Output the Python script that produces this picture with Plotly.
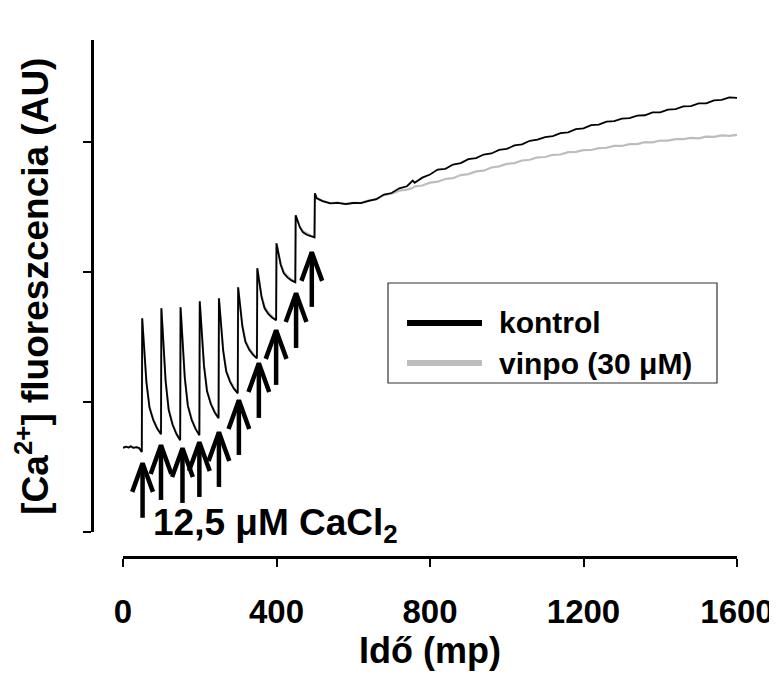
import plotly.graph_objects as go

# ---------------- data ----------------
time_s = [0, 8, 15, 20, 27, 35, 42, 49,
          50, 53, 61, 69, 79, 89, 99,
          100, 103, 111, 119, 129, 139, 149,
          150, 153, 161, 169, 179, 189, 199,
          200, 203, 211, 219, 229, 239, 249,
          250, 253, 261, 269, 279, 289, 299,
          300, 303, 311, 319, 329, 339, 349,
          350, 353, 361, 369, 379, 389, 399,
          400, 403, 411, 419, 429, 439, 449,
          450, 453, 461, 469, 479, 489, 499,
          500, 505, 520, 540, 560, 580, 600, 620, 640, 660,
          680, 700, 720, 740, 755, 760, 780, 800, 820, 840, 860, 880, 900,
          920, 940, 960, 980, 1000, 1020, 1040, 1060, 1080, 1100, 1120, 1140,
          1160, 1180, 1200, 1220, 1240, 1260, 1280, 1300, 1320, 1340, 1360,
          1380, 1400, 1420, 1440, 1460, 1480, 1500, 1520, 1540, 1560, 1580, 1600]

kontrol = [0.650, 0.658, 0.652, 0.662, 0.650, 0.655, 0.648, 0.618,
           1.646, 1.485, 1.155, 0.959, 0.862, 0.798, 0.754,
           1.723, 1.540, 1.165, 0.942, 0.829, 0.758, 0.708,
           1.731, 1.554, 1.189, 0.972, 0.865, 0.795, 0.746,
           1.777, 1.615, 1.282, 1.084, 0.985, 0.922, 0.877,
           1.800, 1.668, 1.398, 1.237, 1.157, 1.105, 1.069,
           1.885, 1.786, 1.585, 1.464, 1.404, 1.365, 1.338,
           2.031, 1.958, 1.811, 1.723, 1.678, 1.651, 1.631,
           2.223, 2.169, 2.058, 1.992, 1.959, 1.938, 1.923,
           2.438, 2.408, 2.345, 2.308, 2.289, 2.278, 2.269,
           2.608, 2.569, 2.548, 2.530, 2.534, 2.524, 2.533, 2.532, 2.550, 2.562,
           2.598, 2.610, 2.646, 2.662, 2.705, 2.688, 2.728, 2.752, 2.790, 2.796, 2.829, 2.840, 2.870,
           2.879, 2.906, 2.914, 2.942, 2.949, 2.976, 2.984, 3.012, 3.020, 3.040, 3.047, 3.071,
           3.077, 3.101, 3.107, 3.132, 3.136, 3.159, 3.163, 3.182, 3.186, 3.205, 3.208,
           3.230, 3.231, 3.252, 3.256, 3.276, 3.278, 3.299, 3.300, 3.322, 3.326, 3.345, 3.342]

vinpo = [0.650, 0.658, 0.652, 0.662, 0.650, 0.655, 0.648, 0.618,
         1.646, 1.487, 1.160, 0.965, 0.868, 0.803, 0.756,
         1.723, 1.542, 1.170, 0.948, 0.835, 0.762, 0.710,
         1.731, 1.556, 1.194, 0.978, 0.871, 0.800, 0.748,
         1.777, 1.617, 1.288, 1.090, 0.992, 0.927, 0.879,
         1.800, 1.670, 1.405, 1.245, 1.166, 1.112, 1.072,
         1.885, 1.789, 1.592, 1.474, 1.416, 1.374, 1.340,
         2.031, 1.961, 1.820, 1.735, 1.690, 1.660, 1.633,
         2.223, 2.172, 2.066, 2.003, 1.970, 1.946, 1.925,
         2.438, 2.410, 2.352, 2.316, 2.296, 2.283, 2.270,
         2.608, 2.571, 2.551, 2.533, 2.536, 2.527, 2.535, 2.534, 2.551, 2.561,
         2.594, 2.604, 2.628, 2.636, 2.648, 2.660, 2.668, 2.690, 2.697, 2.718, 2.724, 2.748, 2.755,
         2.776, 2.782, 2.806, 2.815, 2.834, 2.840, 2.860, 2.866, 2.884, 2.887, 2.904, 2.906,
         2.924, 2.926, 2.940, 2.941, 2.955, 2.958, 2.972, 2.972, 2.986, 2.986, 3.001,
         3.000, 3.014, 3.013, 3.025, 3.024, 3.034, 3.031, 3.043, 3.042, 3.053, 3.050, 3.058]

# CaCl2 additions (arrows): time and arrow tip height
arrow_t = [51, 99, 155, 199, 250, 302, 354, 399, 451, 492]
arrow_tip = [0.531, 0.669, 0.646, 0.692, 0.769, 1.015, 1.300, 1.554, 1.838, 2.154]

x_ticks = [0, 400, 800, 1200, 1600]
y_ticks = [0, 1, 2, 3]

series_names = ["kontrol", "vinpo (30 \u03bcM)"]
series_colors = ["#000000", "#bdbdbd"]

# ---------------- figure ----------------
# the page body has an 8 px margin, so the figure is drawn 8 px in from the corner
OFF = 8
W, H = 777 - OFF, 673 - OFF
SANS = "Liberation Sans, Arial, Helvetica, sans-serif"


def px(x):
    return (x - OFF) / W


def py(y):
    return 1 - (y - OFF) / H


fig = go.Figure()

fig.add_trace(go.Scatter(x=time_s, y=vinpo, mode="lines", name=series_names[1],
                         line=dict(color=series_colors[1], width=2.2), showlegend=False))
fig.add_trace(go.Scatter(x=time_s, y=kontrol, mode="lines", name=series_names[0],
                         line=dict(color=series_colors[0], width=1.8), showlegend=False))

# arrows (shaft + open head) built from the addition arrays
SHAFT = 0.42
HEAD_DX = 27
HEAD_DY = 0.22
ax, ay = [], []
for t, tip in zip(arrow_t, arrow_tip):
    ax += [t, t, None, t - HEAD_DX, t, t + HEAD_DX, None]
    ay += [tip - SHAFT, tip, None, tip - HEAD_DY, tip, tip - HEAD_DY, None]
fig.add_trace(go.Scatter(x=ax, y=ay, mode="lines", line=dict(color="black", width=4.5),
                         showlegend=False, hoverinfo="skip"))

fig.add_annotation(x=398, y=0.06, xref="x", yref="y",
                   text="12,5 \u03bcM CaCl<sub>2</sub>", showarrow=False,
                   font=dict(family=SANS, size=37, color="black", weight="bold"),
                   xanchor="center", yanchor="middle")

# legend box
fig.add_shape(type="rect", xref="paper", yref="paper",
              x0=px(388), x1=px(717), y0=py(383), y1=py(283),
              line=dict(color="#333333", width=1.2), fillcolor="white", layer="above")
for i, (name, col) in enumerate(zip(series_names, series_colors)):
    yy = py(323 + 40 * i)
    fig.add_shape(type="line", xref="paper", yref="paper",
                  x0=px(407), x1=px(482), y0=yy, y1=yy,
                  line=dict(color=col, width=6), layer="above")
    fig.add_annotation(x=px(497), y=yy, xref="paper", yref="paper", text=name,
                       showarrow=False, xanchor="left", yanchor="middle",
                       font=dict(family=SANS, size=30, color="black", weight="bold"))

fig.update_layout(
    width=W, height=H,
    margin=dict(l=0, r=0, t=0, b=0),
    plot_bgcolor="white", paper_bgcolor="white",
    showlegend=False,
    font=dict(family=SANS, color="black"),
    xaxis=dict(domain=[px(123), px(737)], range=[0, 1600], anchor="free", position=py(557),
               showline=True, linewidth=3, linecolor="black", mirror=False,
               ticks="outside", ticklen=8, tickwidth=2, tickcolor="black",
               tickvals=x_ticks, ticktext=[str(v) for v in x_ticks],
               tickfont=dict(family=SANS, size=33, color="black", weight="bold"),
               ticklabelstandoff=16,
               showgrid=False, zeroline=False, automargin=False,
               title=dict(text="Idő (mp)", standoff=2,
                          font=dict(family=SANS, size=36, color="black", weight="bold"))),
    yaxis=dict(domain=[py(532.3), py(40)], range=[0, 3.787], anchor="free", position=px(92.3),
               showline=True, linewidth=3, linecolor="black",
               ticks="outside", ticklen=8, tickwidth=2, tickcolor="black",
               tickvals=y_ticks, showticklabels=False,
               showgrid=False, zeroline=False, automargin=False,
               title=dict(text="[Ca<sup>2+</sup>] fluoreszcencia (AU)", standoff=22,
                          font=dict(family=SANS, size=37, color="black", weight="bold"))),
)

fig.write_html("out.html")
